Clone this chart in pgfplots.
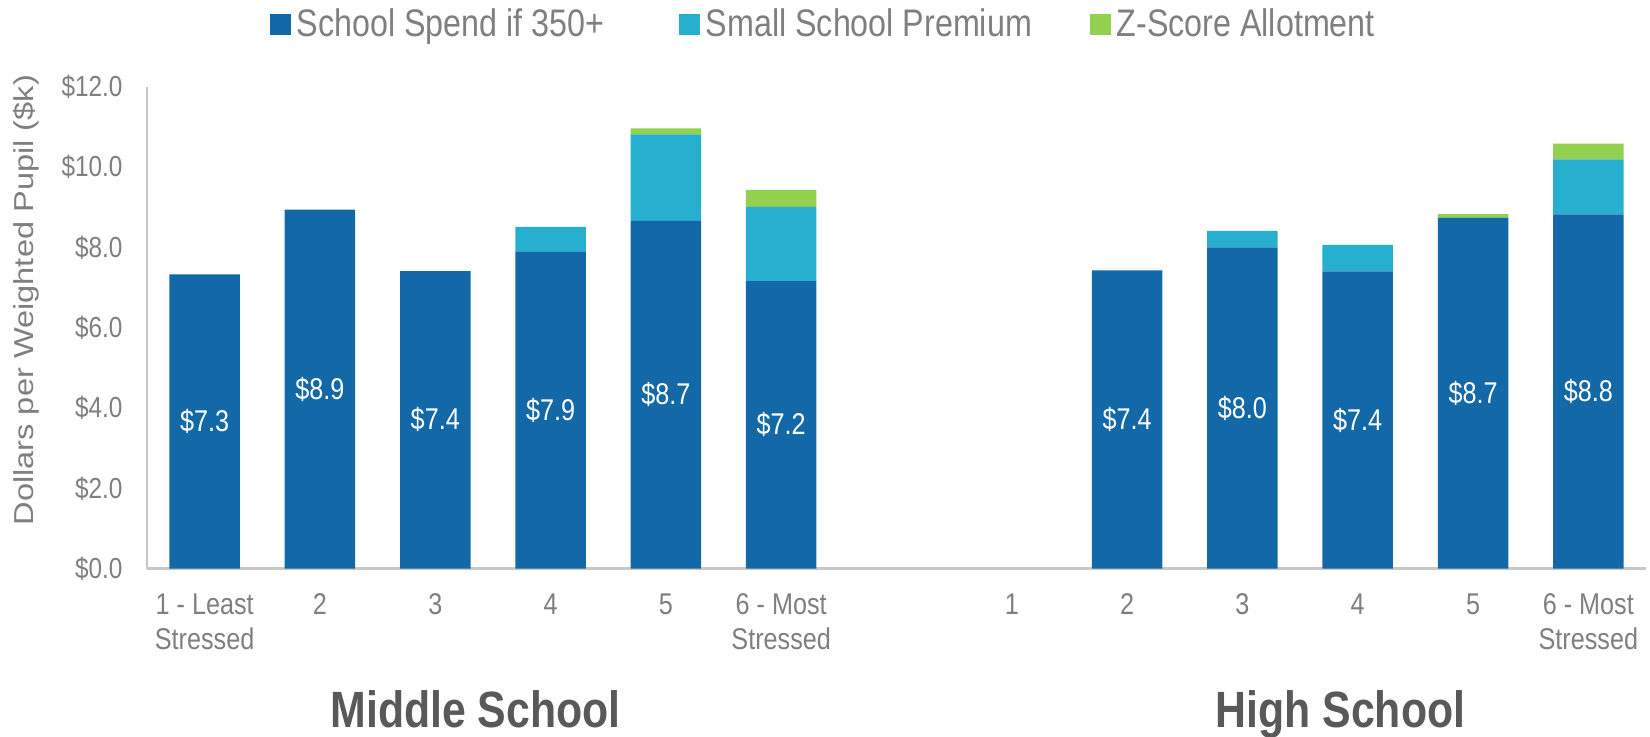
\documentclass[border=0pt]{standalone}
\usepackage{fontspec}
\setmainfont{Liberation Sans}[FakeStretch=0.84]
\newfontfamily\ylabfont{Liberation Sans}
\usepackage{graphicx}
\usepackage{pgfplots}
\pgfplotsset{compat=1.18}
\usepackage{pgfplotstable}

\definecolor{spend}{RGB}{19,105,167}
\definecolor{premium}{RGB}{38,175,206}
\definecolor{zscore}{RGB}{146,208,80}
\definecolor{txtgray}{RGB}{127,127,127}
\definecolor{titlegray}{RGB}{89,89,89}
\definecolor{axisgray}{RGB}{200,200,200}

% Spend per weighted pupil ($k) by stress level; slot 6 separates the two school levels
\pgfplotstableread{
x  spend premium zscore
0  7.33  0     0
1  8.94  0     0
2  7.41  0     0
3  7.89  0.62  0
4  8.66  2.15  0.15
5  7.16  1.85  0.42
7  0     0     0
8  7.43  0     0
9  8.00  0.41  0
10 7.40  0.66  0
11 8.74  0     0.09
12 8.82  1.37  0.39
}\schooldata

\pgfplotsset{
  sqlegend/.style={legend image code/.code={\fill[##1] (0pt,-5.25pt) rectangle (10.5pt,5.25pt);}},
}

\begin{document}
\begin{tikzpicture}
\path[use as bounding box] (-73.5pt,-84.15pt) rectangle (751.5pt,284.35pt);
\begin{axis}[
  scale only axis,
  width=749.5pt, height=241pt,
  clip=false,
  ybar stacked,
  bar width=35.25pt,
  xmin=-0.5, xmax=12.5,
  ymin=0, ymax=12,
  xtick={0,1,2,3,4,5,7,8,9,10,11,12},
  xticklabels={{1 - Least\\Stressed},2,3,4,5,{6 - Most\\Stressed},1,2,3,4,5,{6 - Most\\Stressed}},
  ytick={0,2,...,12},
  /pgf/number format/assume math mode=true,
  yticklabel={\$\pgfmathprintnumber[fixed,fixed zerofill,precision=1]{\tick}},
  major tick length=0pt,
  axis lines*=left,
  axis line style={-, draw=axisgray, line width=1.2pt},
  xticklabel style={font=\fontsize{15}{17.5}\selectfont, text=txtgray, align=center, anchor=north, yshift=-9pt},
  yticklabel style={font=\fontsize{14.5}{17}\selectfont, text=txtgray, anchor=east, xshift=-8.7pt},
  ylabel={\scalebox{1}[0.84]{Dollars per Weighted Pupil (\$k)}},
  ylabel style={at={(axis description cs:-0.0804,0.557)}, anchor=center,
    font=\ylabfont\fontsize{16.3}{19}\selectfont, text=txtgray},
  legend columns=3,
  legend style={at={(0.4525,1.1295)}, anchor=center, draw=none, fill=none,
    font=\fontsize{19.2}{22}\selectfont, text=txtgray,
    nodes={inner xsep=3pt, inner ysep=1pt},
    /tikz/column 2/.style={column sep=34.2pt},
    /tikz/column 4/.style={column sep=25.8pt}},
  legend cell align=left,
]
\addplot+[sqlegend, fill=spend, draw=none,
  nodes near coords={\$\pgfmathprintnumber[fixed,fixed zerofill,precision=1]{\pgfplotspointmeta}},
  nodes near coords style={font=\fontsize{15}{17}\selectfont, text=white, anchor=center},
] table[x=x, y=spend] {\schooldata};
\addplot+[sqlegend, fill=premium, draw=none] table[x=x, y=premium] {\schooldata};
\addplot+[sqlegend, fill=zscore, draw=none] table[x=x, y=zscore] {\schooldata};
\legend{School Spend if 350+, Small School Premium, Z-Score Allotment}

\node[font=\bfseries\fontsize{25.5}{30}\selectfont, text=titlegray, anchor=base, yshift=-79.35pt]
  at (axis cs:2.35,0) {Middle School};
\node[font=\bfseries\fontsize{25.5}{30}\selectfont, text=titlegray, anchor=base, yshift=-79.35pt]
  at (axis cs:9.85,0) {High School};
\end{axis}
\end{tikzpicture}
\end{document}
